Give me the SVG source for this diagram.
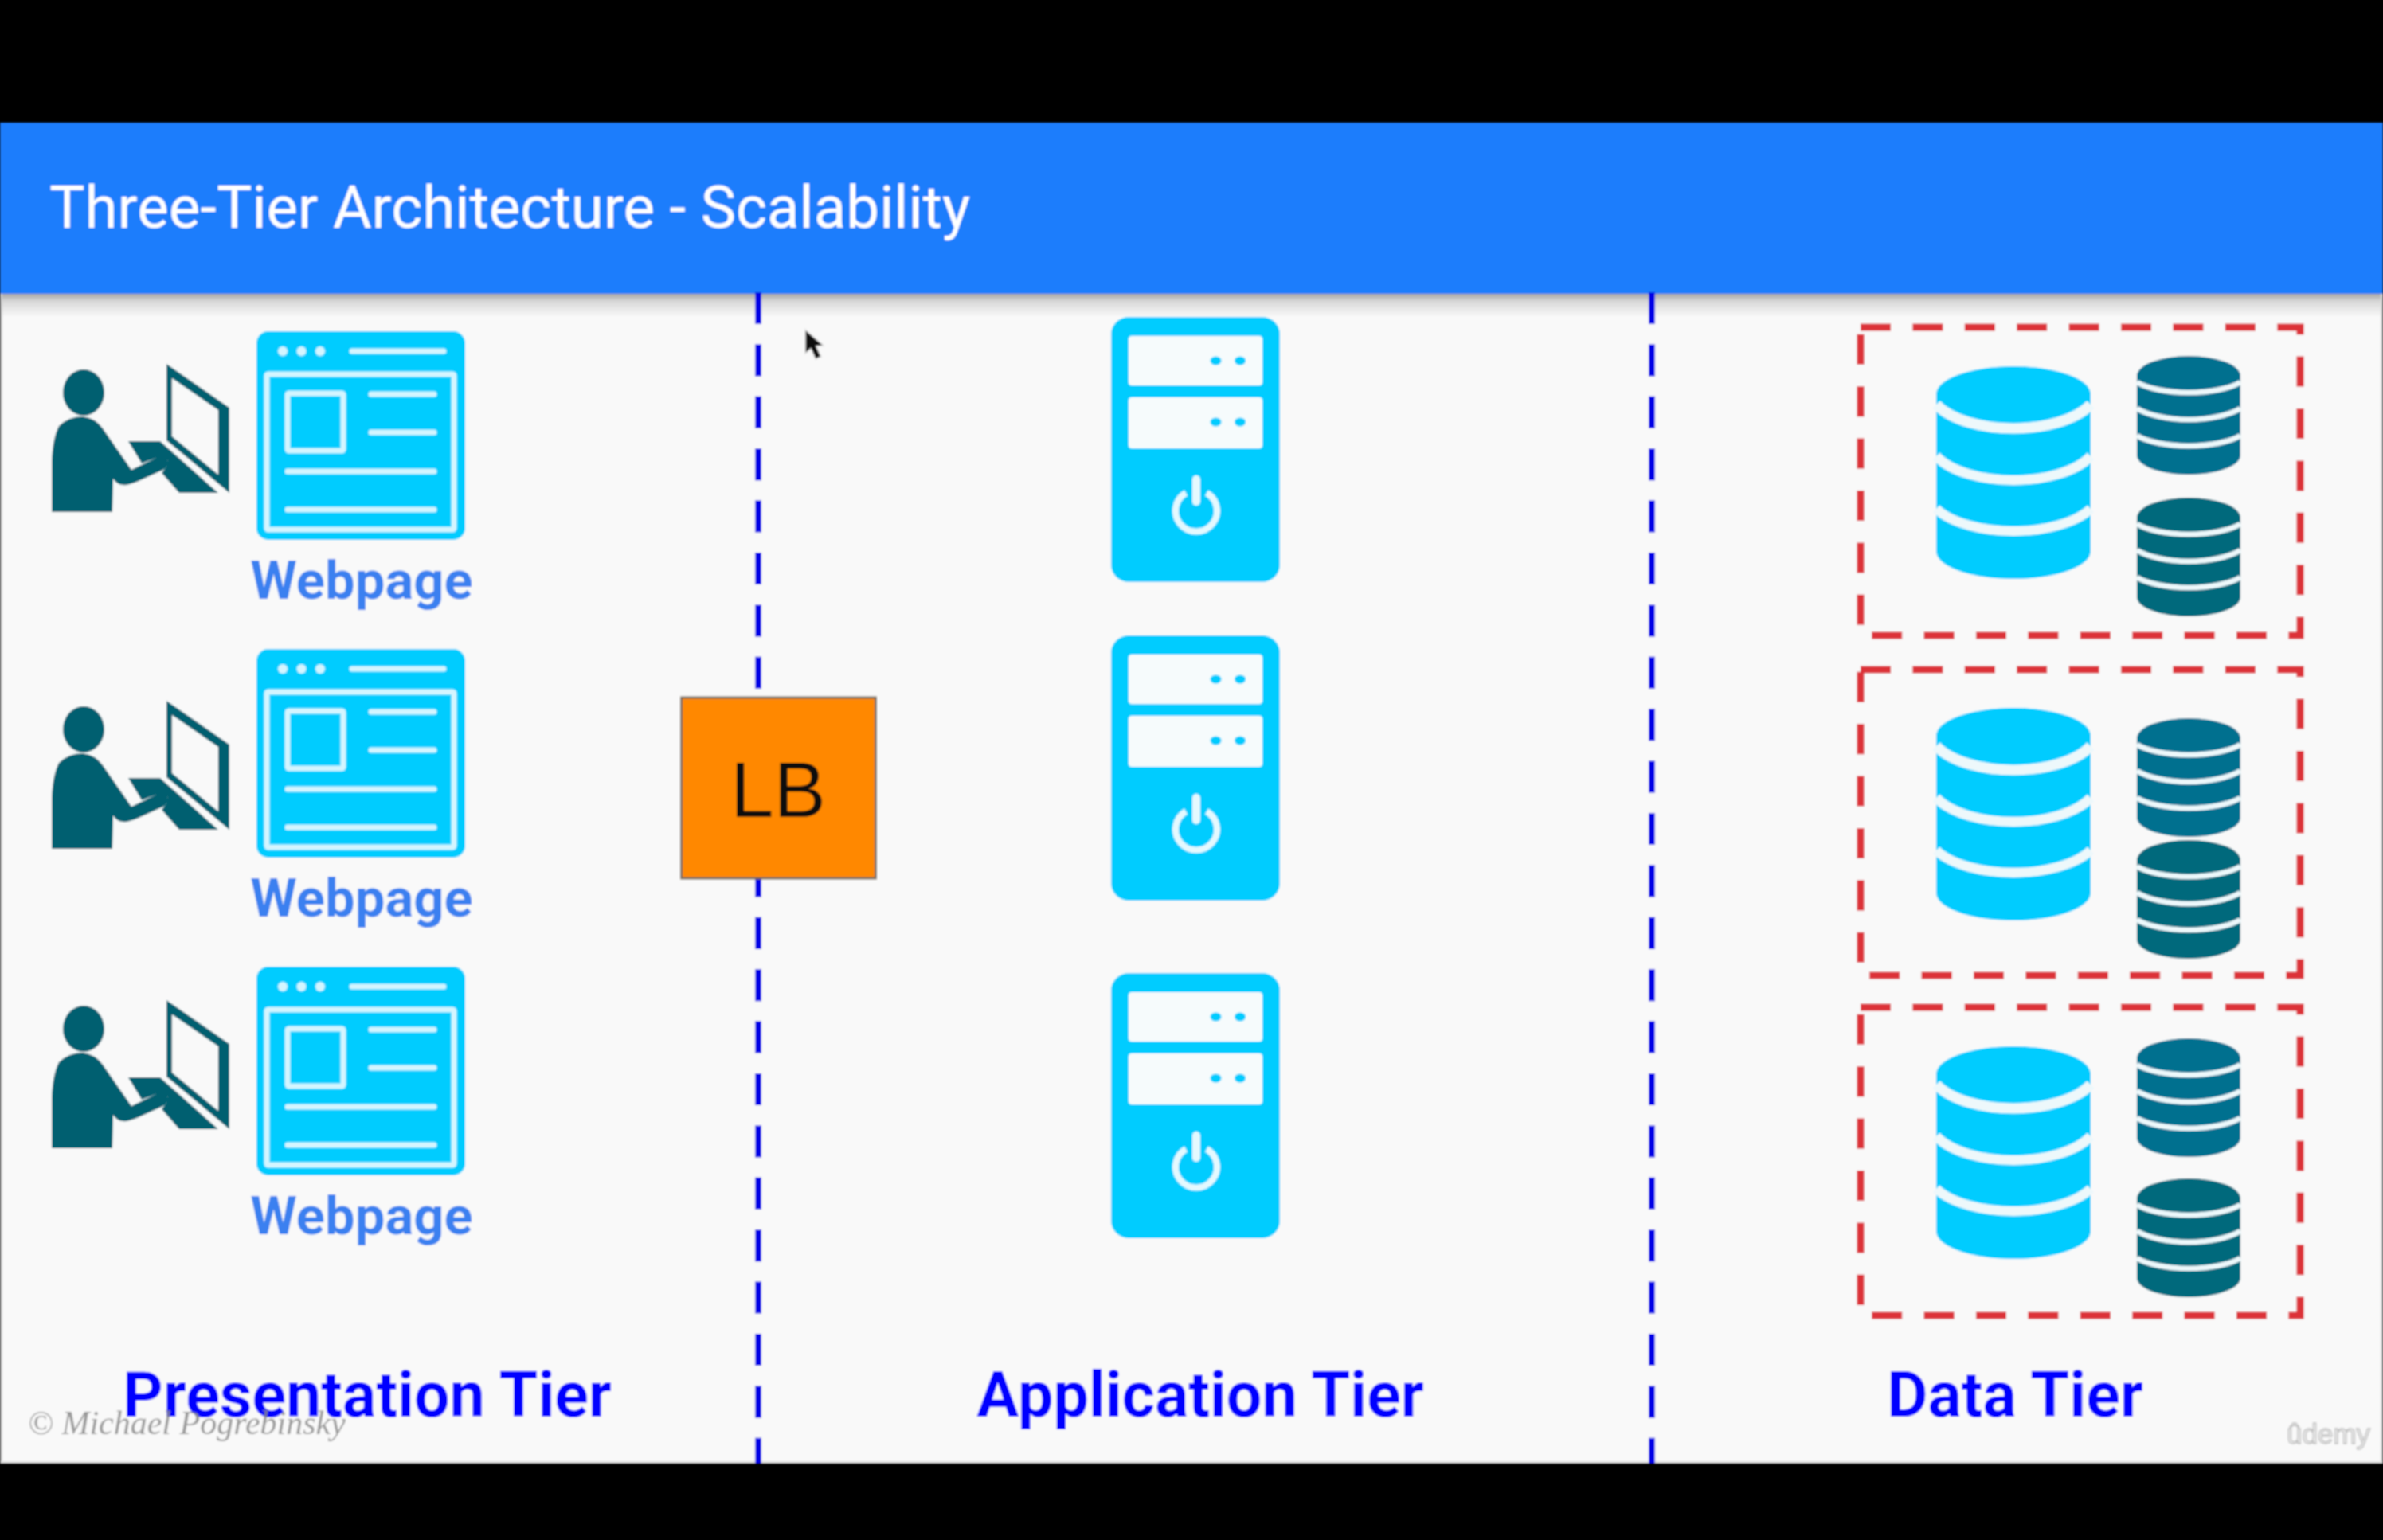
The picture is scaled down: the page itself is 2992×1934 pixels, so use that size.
<svg xmlns="http://www.w3.org/2000/svg" xmlns:xlink="http://www.w3.org/1999/xlink" width="2992" height="1934" viewBox="0 0 2992 1934">
<style>
.tier{font:700 79px Roboto,"Liberation Sans",sans-serif;fill:#0000ff;text-anchor:middle}
.wp{font:700 67px Roboto,"Liberation Sans",sans-serif;fill:#3a80f0;text-anchor:middle}
.div{stroke:#0000e6;stroke-width:8;stroke-dasharray:40 25.4;fill:none}
.grp{fill:none;stroke:#dc3038;stroke-width:9;stroke-dasharray:38 27.4}
.lt{fill:none;stroke:#d4f5ff;stroke-linecap:round}
.sep{fill:none;stroke:#edf8fb}
</style>
<defs>
<linearGradient id="shade" x1="0" y1="0" x2="0" y2="1"><stop offset="0" stop-color="#a0a0a0"/><stop offset="0.35" stop-color="#d8d8d8"/><stop offset="1" stop-color="#f9f9f9"/></linearGradient>
<filter id="soft" x="-2%" y="-2%" width="104%" height="104%"><feGaussianBlur stdDeviation="1.200"/></filter>
<g id="person">
<ellipse cx="105" cy="493" rx="26" ry="29" fill="#005f6f"/>
<path fill="#005f6f" d="M65 643V580Q66 550 74 535Q86 523 104 523Q120 525 129 538L165 590L196 575Q208 572 211 579Q211 586 205 590L172 605Q160 610 154 609Q146 608 142 601L141 643Z"/>
<path fill="#005f6f" d="M161 554H201L274 619H225L203 594L209 586L211 578L196 575L178 582Z"/>
<path fill="#005f6f" fill-rule="evenodd" d="M209 457L288 512V619L209 553ZM216 475V548L274 596V515Z"/>
</g>
<g id="page">
<rect x="322" y="416" width="262" height="262" rx="15" fill="#00ccff"/>
<rect x="335" y="470" width="235" height="195" rx="2" fill="none" stroke="#d4f5ff" stroke-width="7"/>
<circle cx="355" cy="441" r="6" fill="#d4f5ff"/><circle cx="378.500" cy="441" r="6" fill="#d4f5ff"/><circle cx="402" cy="441" r="6" fill="#d4f5ff"/>
<path class="lt" stroke-width="7" d="M442 441H557M466 495H545M466 543H545M361 592H545M361 640H545"/>
<rect x="361" y="494" width="70" height="72" rx="2" fill="none" stroke="#d4f5ff" stroke-width="7"/>
</g>
<g id="server">
<rect x="1395" y="398" width="212" height="333" rx="22" fill="#00ccff"/>
<rect x="1417" y="422" width="168" height="62" rx="4" fill="#f6fbfc"/>
<rect x="1417" y="499" width="168" height="64" rx="4" fill="#f6fbfc"/>
<ellipse cx="1526.500" cy="453" rx="7" ry="5.500" fill="#00ccff"/><ellipse cx="1557" cy="453" rx="7" ry="5.500" fill="#00ccff"/>
<ellipse cx="1526.500" cy="530" rx="7" ry="5.500" fill="#00ccff"/><ellipse cx="1557" cy="530" rx="7" ry="5.500" fill="#00ccff"/>
<path fill="none" stroke="#e4f9ff" stroke-width="8" d="M1489 619A26 26 0 1 0 1515 619"/>
<path fill="none" stroke="#e4f9ff" stroke-width="10" stroke-linecap="round" d="M1502 602V630"/>
</g>
<g id="bigdb">
<path fill="#00ccff" d="M2431 495A97 35 0 0 1 2625 495V692C2625 712 2580 727 2528 727C2476 727 2431 712 2431 692Z"/>
<path class="sep" stroke-width="13" d="M2431 508C2450 528 2490 538 2528 538C2566 538 2606 528 2625 508"/>
<path class="sep" stroke-width="12" d="M2431 573C2450 593 2490 603 2528 603C2566 603 2606 593 2625 573"/>
<path class="sep" stroke-width="12" d="M2431 639C2450 657 2490 667 2528 667C2566 667 2606 657 2625 639"/>
</g>
<g id="smalldb">
<path d="M2683 472A65 25 0 0 1 2813 472V572C2813 585 2784 596 2748 596C2712 596 2683 585 2683 572Z"/>
<path class="sep" stroke-width="6.500" d="M2683 480C2696 488 2722 493 2748 493C2774 493 2800 488 2813 480"/>
<path class="sep" stroke-width="6.500" d="M2683 513C2696 521 2722 527 2748 527C2774 527 2800 521 2813 513"/>
<path class="sep" stroke-width="6.500" d="M2683 547C2696 555 2722 560 2748 560C2774 560 2800 555 2813 547"/>
</g>
</defs>
<rect id="frame" width="2992" height="1934" fill="#000"/>
<g filter="url(#soft)">
<rect id="canvas" x="0" y="154" width="2992" height="1684" fill="#f9f9f9"/>
<rect x="0" y="368" width="2992" height="30" fill="url(#shade)"/>
<rect x="0" y="368" width="3" height="1470" fill="#c8c8c8"/>
<rect x="2989" y="368" width="3" height="1470" fill="#d8d8d8"/>
<rect x="0" y="1835" width="2992" height="3" fill="#dcdcdc"/>
<g id="header">
<rect x="0" y="154" width="2992" height="215" fill="#1a7dfc"/>
<text x="62" y="286" font-family="Roboto,'Liberation Sans',sans-serif" font-size="74.600" fill="#fff">Three-Tier Architecture - Scalability</text>
</g>
<g id="connectors">
<path class="div" d="M952 367V1838"/>
<path class="div" d="M2074 367V1838"/>
</g>
<g id="client-1"><use href="#person"/><use href="#page"/><text class="wp" x="454" y="752">Webpage</text></g>
<g id="client-2"><use href="#person" y="423"/><use href="#page" y="399"/><text class="wp" x="454" y="1151">Webpage</text></g>
<g id="client-3"><use href="#person" y="799"/><use href="#page" y="798"/><text class="wp" x="454" y="1550">Webpage</text></g>
<g id="lb">
<rect x="855.500" y="876" width="244" height="227" fill="#ff8800" stroke="#7a6a5a" stroke-width="3"/>
<text x="977" y="1026" font-family="'Liberation Sans',Arial,sans-serif" font-size="98" fill="#111" text-anchor="middle">LB</text>
</g>
<g id="server-1"><use href="#server"/></g>
<g id="server-2"><use href="#server" y="400"/></g>
<g id="server-3"><use href="#server" y="824"/></g>
<g id="db-group-1">
<rect class="grp" x="2336" y="411" width="552" height="387"/>
<use href="#bigdb"/><use href="#smalldb" fill="#00708f"/><use href="#smalldb" y="178" fill="#00697c"/>
</g>
<g id="db-group-2">
<rect class="grp" x="2336" y="841" width="552" height="384"/>
<use href="#bigdb" y="429"/><use href="#smalldb" y="455" fill="#00708f"/><use href="#smalldb" y="608" fill="#00697c"/>
</g>
<g id="db-group-3">
<rect class="grp" x="2336" y="1265" width="552" height="387"/>
<use href="#bigdb" y="854"/><use href="#smalldb" y="857" fill="#00708f"/><use href="#smalldb" y="1033" fill="#00697c"/>
</g>
<g id="tier-labels">
<text class="tier" x="461" y="1779">Presentation Tier</text>
<text class="tier" x="1507" y="1779">Application Tier</text>
<text class="tier" x="2530" y="1779">Data Tier</text>
</g>
<text id="copyright" x="35" y="1801" font-family="'Liberation Serif','Times New Roman',serif" font-style="italic" font-size="42" fill="#8a8a8a" fill-opacity="0.85">© Michael Pogrebinsky</text>
<text id="udemy" x="2871" y="1813" font-family="'Liberation Sans',Arial,sans-serif" font-size="35" fill="#f4f4f4" stroke="#c0c0c0" stroke-width="1.500">ûdemy</text>
<path id="cursor" d="M1011 414V444L1018 438L1024 451L1031 448L1025 435L1034 434Z" fill="#111" stroke="#ddd" stroke-width="1.500"/>
</g>
</svg>
